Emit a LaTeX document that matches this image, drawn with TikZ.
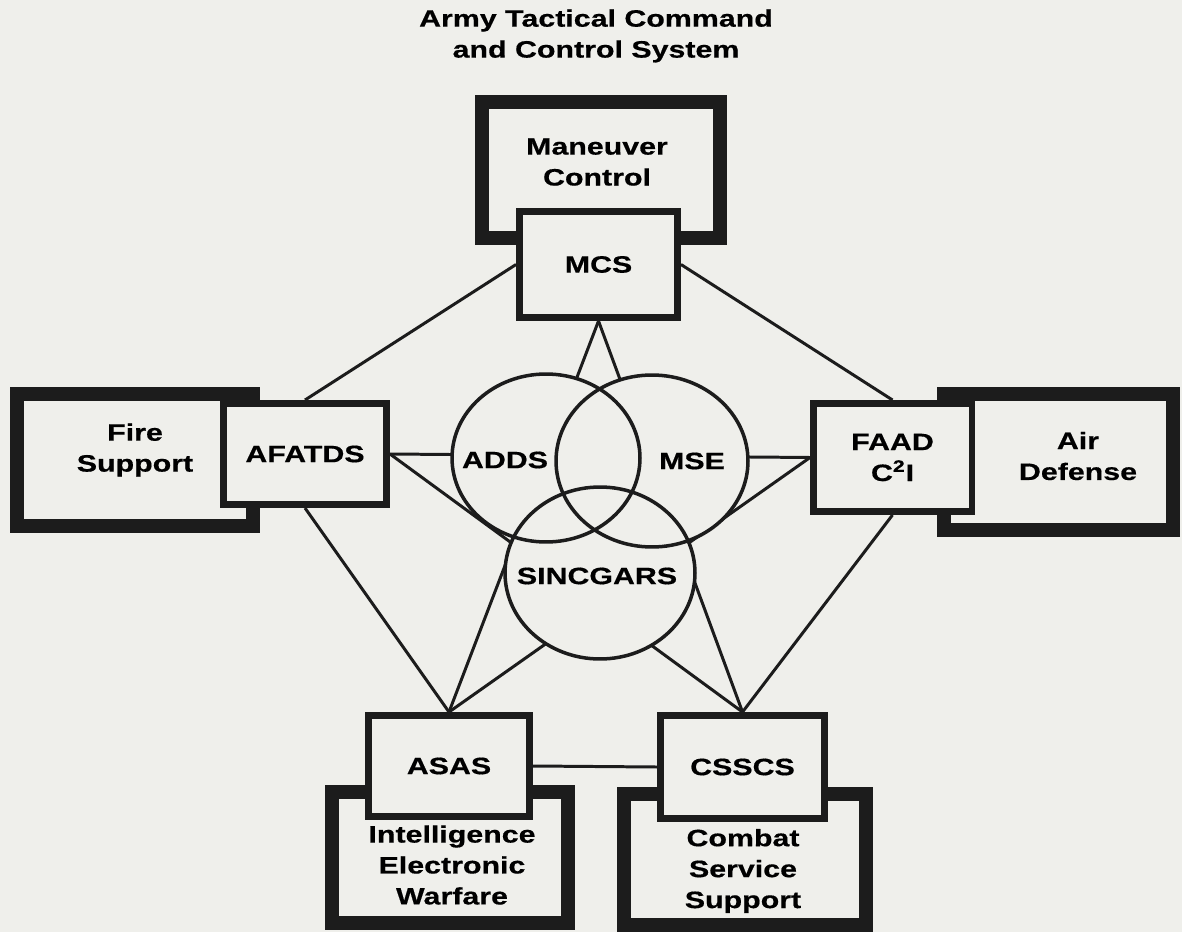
\documentclass[tikz,border=0pt]{standalone}
\usepackage{fontspec}
\newfontfamily\chartfont[FakeStretch=1.28,FakeBold=0.5]{Liberation Sans}
\usepackage{tikz}
\usetikzlibrary{shapes.geometric,positioning}
\definecolor{paper}{RGB}{239,239,235}
\definecolor{ink}{RGB}{28,28,28}
\newcommand{\boxfont}{\chartfont\bfseries\fontsize{13.5}{17.6}\selectfont}
\tikzset{
    %Define style for the command areas
    areabox/.style={
           rectangle,
           draw=ink, line width=8pt,
           fill=paper,
           inner sep=0pt},
    %Define style for the system boxes
    sysbox/.style={
           rectangle,
           draw=ink, line width=3.7pt,
           fill=paper,
           inner sep=0pt,
           font=\boxfont,
           align=center},
    %Define style for the networks
    netring/.style={
           ellipse,
           draw=ink, line width=2pt,
           inner sep=0pt},
    %Define style for plain texts
    areatext/.style={
           font=\boxfont,
           inner sep=0pt,
           align=center},
    % Define line style
    link/.style={
           draw=ink,
           line width=1.7pt}
}
\begin{document}
\begin{tikzpicture}[x=0.02cm,y=-0.02cm]
\fill[paper] (0,0) rectangle (1182,932);
\useasboundingbox (0,0) rectangle (1182,932);
 %command areas
\node[areabox, minimum width=4.76cm, minimum height=2.72cm] (mc) at (601,170) {};
\node[areabox, minimum width=4.72cm, minimum height=2.64cm] (fs) at (135,460) {};
\node[areabox, minimum width=4.58cm, minimum height=2.72cm] (ad) at (1058.5,462) {};
\node[areabox, minimum width=4.72cm, minimum height=2.62cm] (iew) at (450,857.5) {};
\node[areabox, minimum width=4.84cm, minimum height=2.62cm] (css) at (745,859.5) {};
\node[areatext] (mctext) at (597,162) {Maneuver\\Control};
\node[areatext] (fstext) at (135,450) {Fire\\Support};
\node[areatext] (adtext) at (1078,456) {Air\\Defense};
\node[areatext] (iewtext) at (452,865) {Intelligence\\Electronic\\Warfare};
\node[areatext] (csstext) at (743,871) {Combat\\Service\\Support};
 %systems
\node[sysbox, minimum width=3.17cm, minimum height=2.13cm] (mcs) at (598.5,264.5) {MCS};
\node[sysbox, minimum width=3.27cm, minimum height=2.03cm] (afatds) at (305,454) {AFATDS};
\node[sysbox, minimum width=3.17cm, minimum height=2.17cm] (faad) at (892.5,457.5) {FAAD\\C\textsuperscript{2}I};
\node[sysbox, minimum width=3.23cm, minimum height=2.03cm] (asas) at (449,766) {ASAS};
\node[sysbox, minimum width=3.29cm, minimum height=2.07cm] (csscs) at (742.5,767) {CSSCS};
 %links
\path[link]
    (mcs.west) edge (afatds.north)
    (mcs.east) edge (faad.north)
    (mcs.south) edge (asas.north) edge (csscs.north)
    (afatds.east) edge (faad.west) edge (csscs.north)
    (afatds.south) edge (asas.north)
    (faad.west) edge (asas.north)
    (faad.south) edge (csscs.north)
    (asas.east) edge (csscs.west);
 %networks
\foreach \cx/\cy/\rx/\ry in {546/458/94/84, 652/461/96/86, 600/573/95/86}
  \fill[paper] (\cx,\cy) ellipse ({\rx} and {\ry});
\node[netring, minimum width=3.76cm, minimum height=3.36cm] (adds) at (546,458) {};
\node[netring, minimum width=3.84cm, minimum height=3.44cm] (mse) at (652,461) {};
\node[netring, minimum width=3.8cm, minimum height=3.44cm] (sincgars) at (600,573) {};
\node[areatext] (addstext) at (505,460) {ADDS};
\node[areatext] (msetext) at (692,461) {MSE};
\node[areatext] (sincgarstext) at (597,576) {SINCGARS};
 %title
\node[areatext] (title) at (596,36) {Army Tactical Command\\and Control System};
\end{tikzpicture}
\end{document}
